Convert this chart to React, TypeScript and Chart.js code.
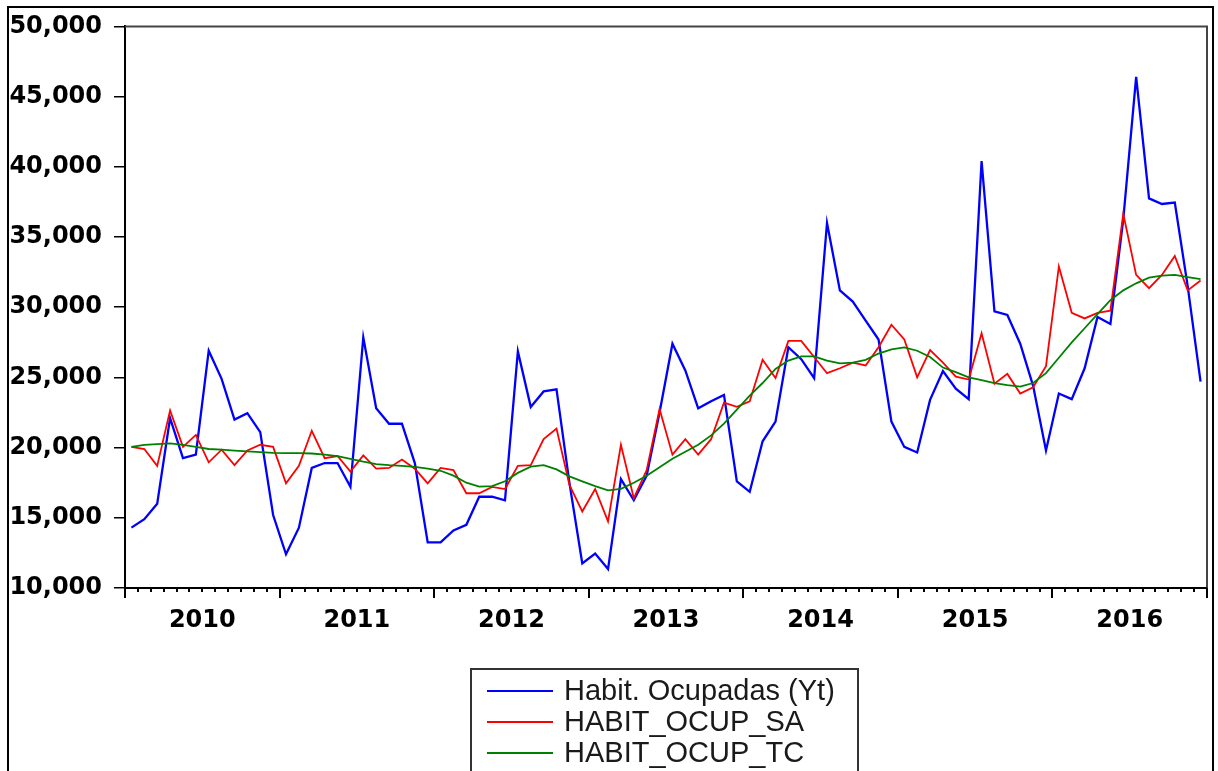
import React, { useEffect, useRef } from 'react';
import { Chart, registerables } from 'chart.js';

Chart.register(...registerables);

const YEARS = ['2010', '2011', '2012', '2013', '2014', '2015', '2016'];
const Y_TICKS = [10000, 15000, 20000, 25000, 30000, 35000, 40000, 45000, 50000];
const SERIES_NAMES = ['Habit. Ocupadas (Yt)', 'HABIT_OCUP_SA', 'HABIT_OCUP_TC'];
const SERIES_COLORS = ['#0000ff', '#ff0000', '#008000'];

// Monthly values, Jan 2010 .. Dec 2016
const HABIT_OCUPADAS = [
  14300, 14900, 16000, 22100, 19250, 19500, 26900, 24900, 22000, 22450, 21100, 15200,
  12400, 14300, 18550, 18900, 18900, 17200, 27850, 22800, 21700, 21700, 18900, 13250,
  13250, 14100, 14500, 16500, 16500, 16250, 26850, 22900, 24000, 24150, 17500, 11750,
  12450, 11350, 17750, 16250, 18000, 22500, 27400, 25500, 22800, 23300, 23750, 17600,
  16850, 20450, 21850, 27150, 26300, 24950, 36000, 31200, 30400, 29050, 27700, 21850,
  20050, 19650, 23400, 25450, 24200, 23450, 40400, 29700, 29450, 27400, 24400, 19800,
  23850, 23450, 25650, 29300, 28800, 36250, 46400, 37750, 37350, 37450, 31500, 24700,
];

const HABIT_OCUP_SA = [
  20050, 19900, 18700, 22650, 20050, 20900, 18950, 19850, 18750, 19800, 20200, 20050,
  17450, 18700, 21200, 19250, 19400, 18300, 19450, 18500, 18550, 19150, 18500, 17450,
  18550, 18400, 16750, 16750, 17200, 17050, 18700, 18750, 20600, 21350, 17350, 15450,
  17050, 14750, 20200, 16400, 18400, 22750, 19500, 20600, 19500, 20600, 23200, 22900,
  23300, 26250, 24950, 27600, 27600, 26450, 25300, 25650, 26050, 25850, 27150, 28750,
  27700, 25000, 26950, 26050, 25050, 24850, 28150, 24550, 25250, 23850, 24300, 25800,
  32900, 29600, 29200, 29600, 29750, 36650, 32300, 31350, 32300, 33650, 31200, 31900,
];

const HABIT_OCUP_TC = [
  20050, 20200, 20250, 20300, 20200, 20050, 19900, 19850, 19780, 19730, 19680, 19620,
  19600, 19600, 19580, 19500, 19400, 19200, 19000, 18830, 18750, 18700, 18620, 18500,
  18350, 18000, 17500, 17220, 17250, 17600, 18200, 18640, 18750, 18450, 17950, 17600,
  17250, 16950, 17060, 17500, 18000, 18600, 19200, 19700, 20200, 20870, 21700, 22700,
  23700, 24600, 25600, 26200, 26500, 26500, 26200, 26000, 26050, 26250, 26700, 27000,
  27140, 26900, 26450, 25700, 25370, 25000, 24800, 24600, 24450, 24350, 24600, 25300,
  26400, 27500, 28500, 29500, 30500, 31200, 31700, 32100, 32250, 32300, 32150, 32000,
];

const W = 1218;
const H = 771;

const toPoints = (arr: number[]) => arr.map((v, i) => ({ x: i + 0.5, y: v }));

const decorPlugin = {
  id: 'decor',
  afterDraw(chart: any) {
    const ctx = chart.ctx as CanvasRenderingContext2D;
    const { left, right, top, bottom } = chart.chartArea;
    const xs = chart.scales.x;
    ctx.save();
    // outer frame
    ctx.strokeStyle = '#000';
    ctx.lineWidth = 2;
    ctx.strokeRect(8, 7, 1205, 820);
    // plot frame top and right
    ctx.strokeStyle = '#444';
    ctx.lineWidth = 2;
    ctx.beginPath();
    ctx.moveTo(left, top);
    ctx.lineTo(right, top);
    ctx.lineTo(right, bottom);
    ctx.stroke();
    // bottom axis
    ctx.strokeStyle = '#000';
    ctx.lineWidth = 2;
    ctx.beginPath();
    ctx.moveTo(left, bottom);
    ctx.lineTo(right, bottom);
    ctx.stroke();
    // month ticks
    ctx.lineWidth = 2;
    const months = YEARS.length * 12;
    for (let m = 0; m <= months; m++) {
      const px = Math.round(xs.getPixelForValue(m));
      const len = m % 12 === 0 ? 10 : 4;
      ctx.beginPath();
      ctx.moveTo(px, bottom);
      ctx.lineTo(px, bottom + len);
      ctx.stroke();
    }
    // legend
    const bx = 471, by = 669;
    ctx.strokeStyle = '#333';
    ctx.lineWidth = 2;
    ctx.strokeRect(bx, by, 387, 140);
    ctx.font = '29px "Liberation Sans", Arial, sans-serif';
    ctx.textBaseline = 'middle';
    ctx.fillStyle = '#1a1a1a';
    SERIES_NAMES.forEach((name, k) => {
      const ly = 691 + k * 31;
      ctx.strokeStyle = SERIES_COLORS[k];
      ctx.lineWidth = 2;
      ctx.beginPath();
      ctx.moveTo(487, ly);
      ctx.lineTo(553, ly);
      ctx.stroke();
      ctx.fillText(name, 564, ly + 1);
    });
    ctx.restore();
  },
};

export default function App() {
  const ref = useRef<HTMLCanvasElement | null>(null);

  useEffect(() => {
    if (!ref.current) return;
    const tickFont = { family: '"DejaVu Sans", sans-serif', weight: 'bold' as const, size: 24 };
    const chart = new Chart(ref.current, {
      type: 'line',
      data: {
        datasets: [
          {
            label: SERIES_NAMES[0],
            data: toPoints(HABIT_OCUPADAS),
            borderColor: SERIES_COLORS[0],
            borderWidth: 2.3,
            order: 2,
          },
          {
            label: SERIES_NAMES[1],
            data: toPoints(HABIT_OCUP_SA),
            borderColor: SERIES_COLORS[1],
            borderWidth: 1.8,
            order: 1,
          },
          {
            label: SERIES_NAMES[2],
            data: toPoints(HABIT_OCUP_TC),
            borderColor: SERIES_COLORS[2],
            borderWidth: 1.8,
            order: 0,
          },
        ],
      },
      options: {
        animation: false,
        responsive: false,
        devicePixelRatio: 1,
        layout: { padding: { left: 0, top: 24, right: 11, bottom: H - 588 - 60 } },
        plugins: { legend: { display: false }, tooltip: { enabled: false } },
        elements: { point: { radius: 0 }, line: { tension: 0, fill: false } },
        scales: {
          x: {
            type: 'linear',
            min: 0,
            max: YEARS.length * 12,
            afterBuildTicks: (s: any) => {
              s.ticks = YEARS.map((_, k) => ({ value: 6 + 12 * k }));
            },
            afterFit: (s: any) => {
              s.height = 60;
            },
            grid: { display: false, drawTicks: false },
            border: { display: false },
            ticks: {
              autoSkip: false,
              maxRotation: 0,
              padding: 18,
              color: '#000',
              font: tickFont,
              callback: (_v: any, idx: number) => YEARS[idx],
            },
          },
          y: {
            type: 'linear',
            min: Y_TICKS[0],
            max: Y_TICKS[Y_TICKS.length - 1],
            afterBuildTicks: (s: any) => {
              s.ticks = Y_TICKS.map((v) => ({ value: v }));
            },
            afterFit: (s: any) => {
              s.width = 125;
            },
            grid: { drawOnChartArea: false, tickLength: 11, color: '#000', tickColor: '#000', lineWidth: 1.5 },
            border: { display: true, color: '#000', width: 2 },
            ticks: {
              padding: 12,
              color: '#000',
              font: tickFont,
              callback: (v: any) => Number(v).toLocaleString('en-US'),
            },
          },
        },
      },
      plugins: [decorPlugin],
    });
    return () => chart.destroy();
  }, []);

  return (
    <div style={{ position: 'absolute', left: 0, top: 0, width: W, height: H, background: '#fff' }}>
      <canvas ref={ref} width={W} height={H} style={{ width: W, height: H, display: 'block' }} />
    </div>
  );
}
